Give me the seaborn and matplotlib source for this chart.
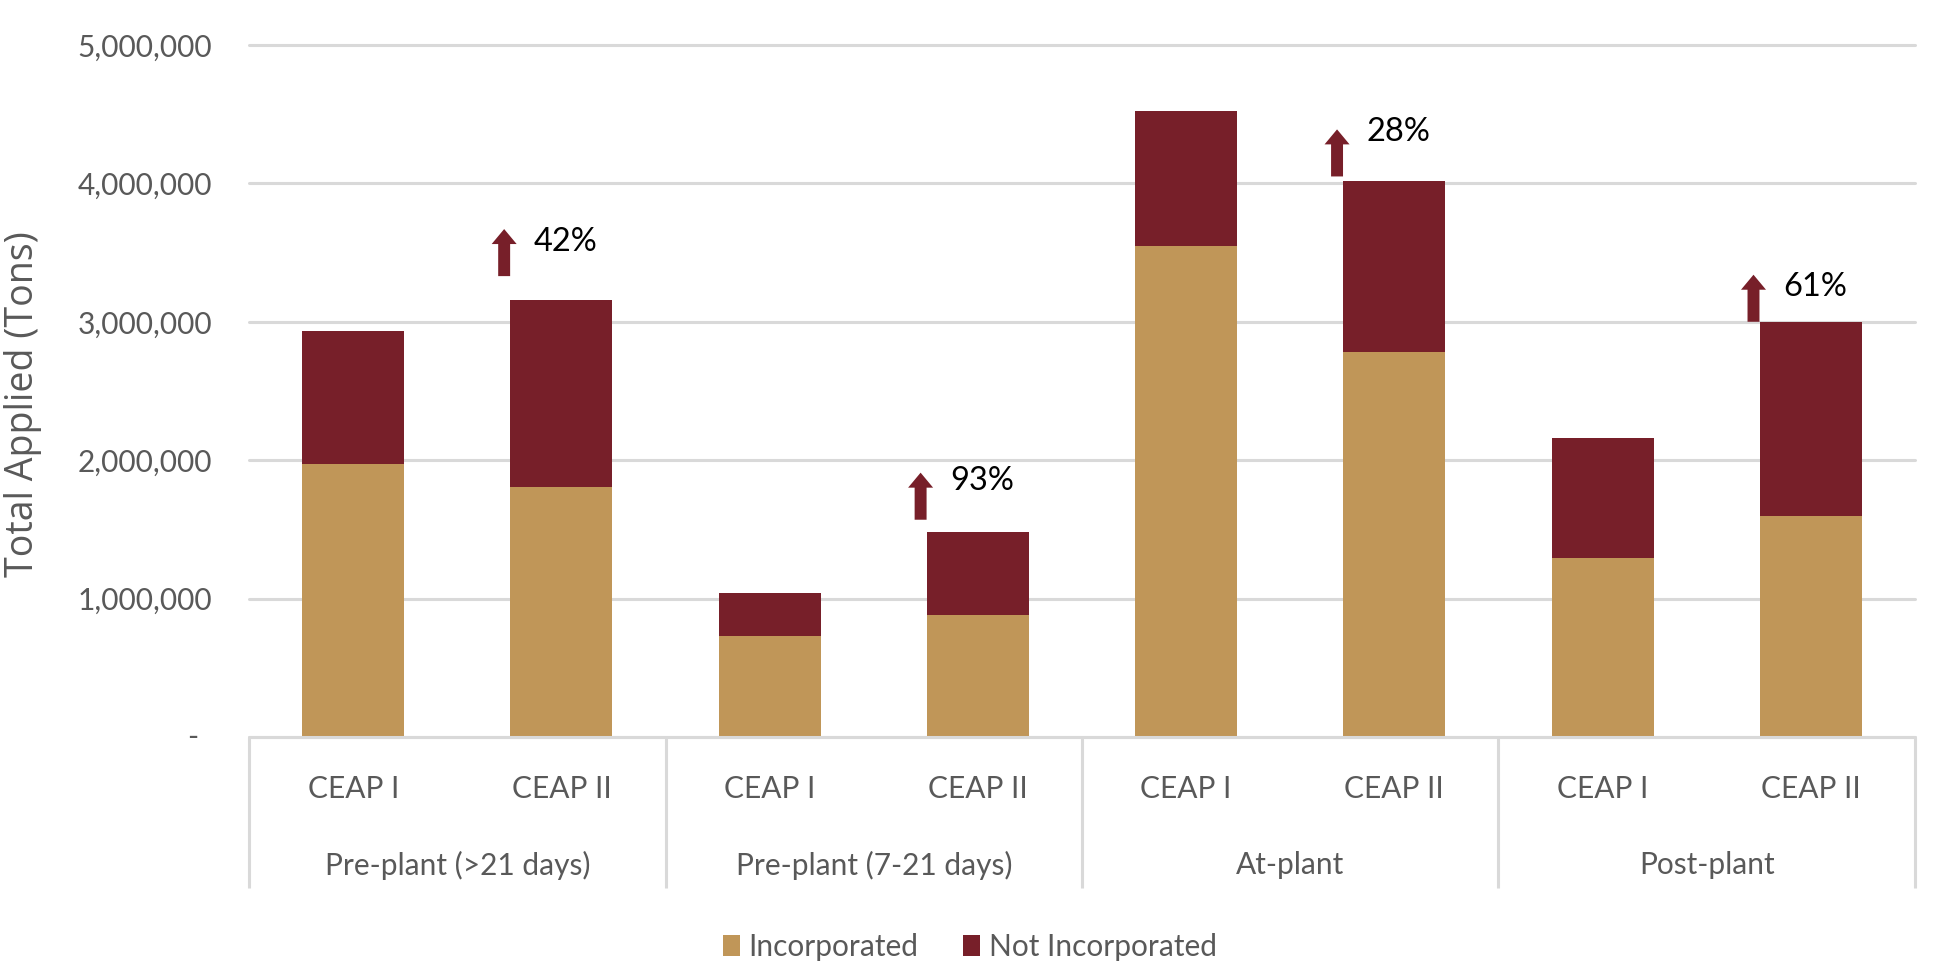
import matplotlib
matplotlib.use("Agg")
import matplotlib.pyplot as plt
import matplotlib.transforms as mtransforms
from matplotlib import font_manager
from matplotlib.patches import Patch
import numpy as np
import pandas as pd
import seaborn as sns

# ---- data -------------------------------------------------------------
groups = ["Pre-plant (>21 days)", "Pre-plant (7-21 days)", "At-plant", "Post-plant"]
surveys = ["CEAP I", "CEAP II"]
incorporated = [1.97e6, 1.81e6, 0.73e6, 0.88e6, 3.55e6, 2.78e6, 1.29e6, 1.60e6]
not_incorporated = [0.96e6, 1.35e6, 0.31e6, 0.60e6, 0.97e6, 1.24e6, 0.87e6, 1.40e6]
change_labels = ["42%", "93%", "28%", "61%"]
y_ticks = [0, 1_000_000, 2_000_000, 3_000_000, 4_000_000, 5_000_000]

# annotation placement (tons) for the change arrows and their labels
arrow_base = [3.33e6, 1.57e6, 4.05e6, 3.00e6]
arrow_length = 0.34e6
label_y = [3.58e6, 1.85e6, 4.37e6, 3.25e6]

# ---- styling ----------------------------------------------------------
TAN = "#C09658"
MAROON = "#771F29"
GRID = "#D9D9D9"
TEXT = "#595959"
FS = 21.5

sns.set_theme(style="white")
names = {f.name for f in font_manager.fontManager.ttflist}
LABEL_FONT = "Lato" if "Lato" in names else "Liberation Sans"
TITLE_FONT = "Open Sans" if "Open Sans" in names else "DejaVu Sans"
plt.rcParams["font.family"] = [LABEL_FONT, "DejaVu Sans"]

df = pd.DataFrame({
    "group": [g for g in groups for _ in surveys],
    "survey": [s for _ in groups for s in surveys],
    "Incorporated": incorporated,
    "Not Incorporated": not_incorporated,
})
df["slot"] = df["group"] + " | " + df["survey"]
df["Total"] = df["Incorporated"] + df["Not Incorporated"]

fig = plt.figure(figsize=(19.46, 9.73), dpi=100)
ax = fig.add_axes([0.128, 0.2425, 0.856, 0.7113])

# stacked bars: full total in maroon, incorporated share in tan on top
sns.barplot(data=df, x="slot", y="Total", color=MAROON, saturation=1,
            width=0.49, errorbar=None, linewidth=0, ax=ax)
sns.barplot(data=df, x="slot", y="Incorporated", color=TAN, saturation=1,
            width=0.49, errorbar=None, linewidth=0, ax=ax)

ax.set_xlim(-0.5, len(df) - 0.5)
ax.set_ylim(0, 5_000_000)
ax.set_yticks(y_ticks)
ax.set_yticklabels(["" if v == 0 else f"{v:,}" for v in y_ticks])
ax.tick_params(axis="y", length=0, pad=26.5, labelsize=FS, labelcolor=TEXT)
ax.set_xticks([])
ax.set_xlabel("")
ax.set_ylabel("")
ax.grid(axis="y", color=GRID, linewidth=2.2)
ax.set_axisbelow(True)
for line in ax.get_ygridlines():
    line.set_clip_on(False)
for spine in ax.spines.values():
    spine.set_visible(False)
ax.axhline(0, color=GRID, linewidth=2.2, zorder=3, clip_on=False)

# zero tick shown as a dash
ax.text(-0.034, 0, "-", transform=mtransforms.blended_transform_factory(ax.transAxes, ax.transData),
        ha="center", va="center", fontsize=FS, color=TEXT)

# two-level category axis
blend = mtransforms.blended_transform_factory(ax.transData, ax.transAxes)
for x in np.arange(-0.5, len(df), 2):
    ax.plot([x, x], [0, -0.218], transform=blend, color=GRID, linewidth=2.2,
            clip_on=False, solid_capstyle="butt")
for i, s in enumerate(df["survey"]):
    ax.text(i, -0.075, s, transform=blend, ha="center", va="center",
            fontsize=FS, color=TEXT)
for g, name in enumerate(groups):
    ax.text(2 * g + 0.5, -0.185, name, transform=blend, ha="center", va="center",
            fontsize=FS, color=TEXT)

# change arrows over the CEAP II bars
for g, lab in enumerate(change_labels):
    i = 2 * g + 1
    xa = i - 0.275
    ax.annotate("", xy=(xa, arrow_base[g] + arrow_length), xytext=(xa, arrow_base[g]),
                arrowprops=dict(arrowstyle="simple,head_length=10.8,head_width=18,tail_width=8.6",
                                mutation_scale=1, color=MAROON, shrinkA=0, shrinkB=0, lw=0))
    ax.text(i + 0.02, label_y[g], lab, ha="center", va="center", fontsize=23.5, color="black")

fig.text(0.0118, 0.585, "Total Applied (Tons)", rotation=90, ha="center", va="center",
         fontsize=27, color=TEXT, family=TITLE_FONT)

handles = [Patch(facecolor=TAN, edgecolor="none"), Patch(facecolor=MAROON, edgecolor="none")]
fig.legend(handles, ["Incorporated", "Not Incorporated"], loc="center",
           bbox_to_anchor=(0.4985, 0.027), ncol=2, frameon=False, fontsize=FS,
           handlelength=0.55, handleheight=0.72, handletextpad=0.3, columnspacing=1.5,
           labelcolor=TEXT)

fig.savefig("out.png", dpi=100, facecolor="white")
